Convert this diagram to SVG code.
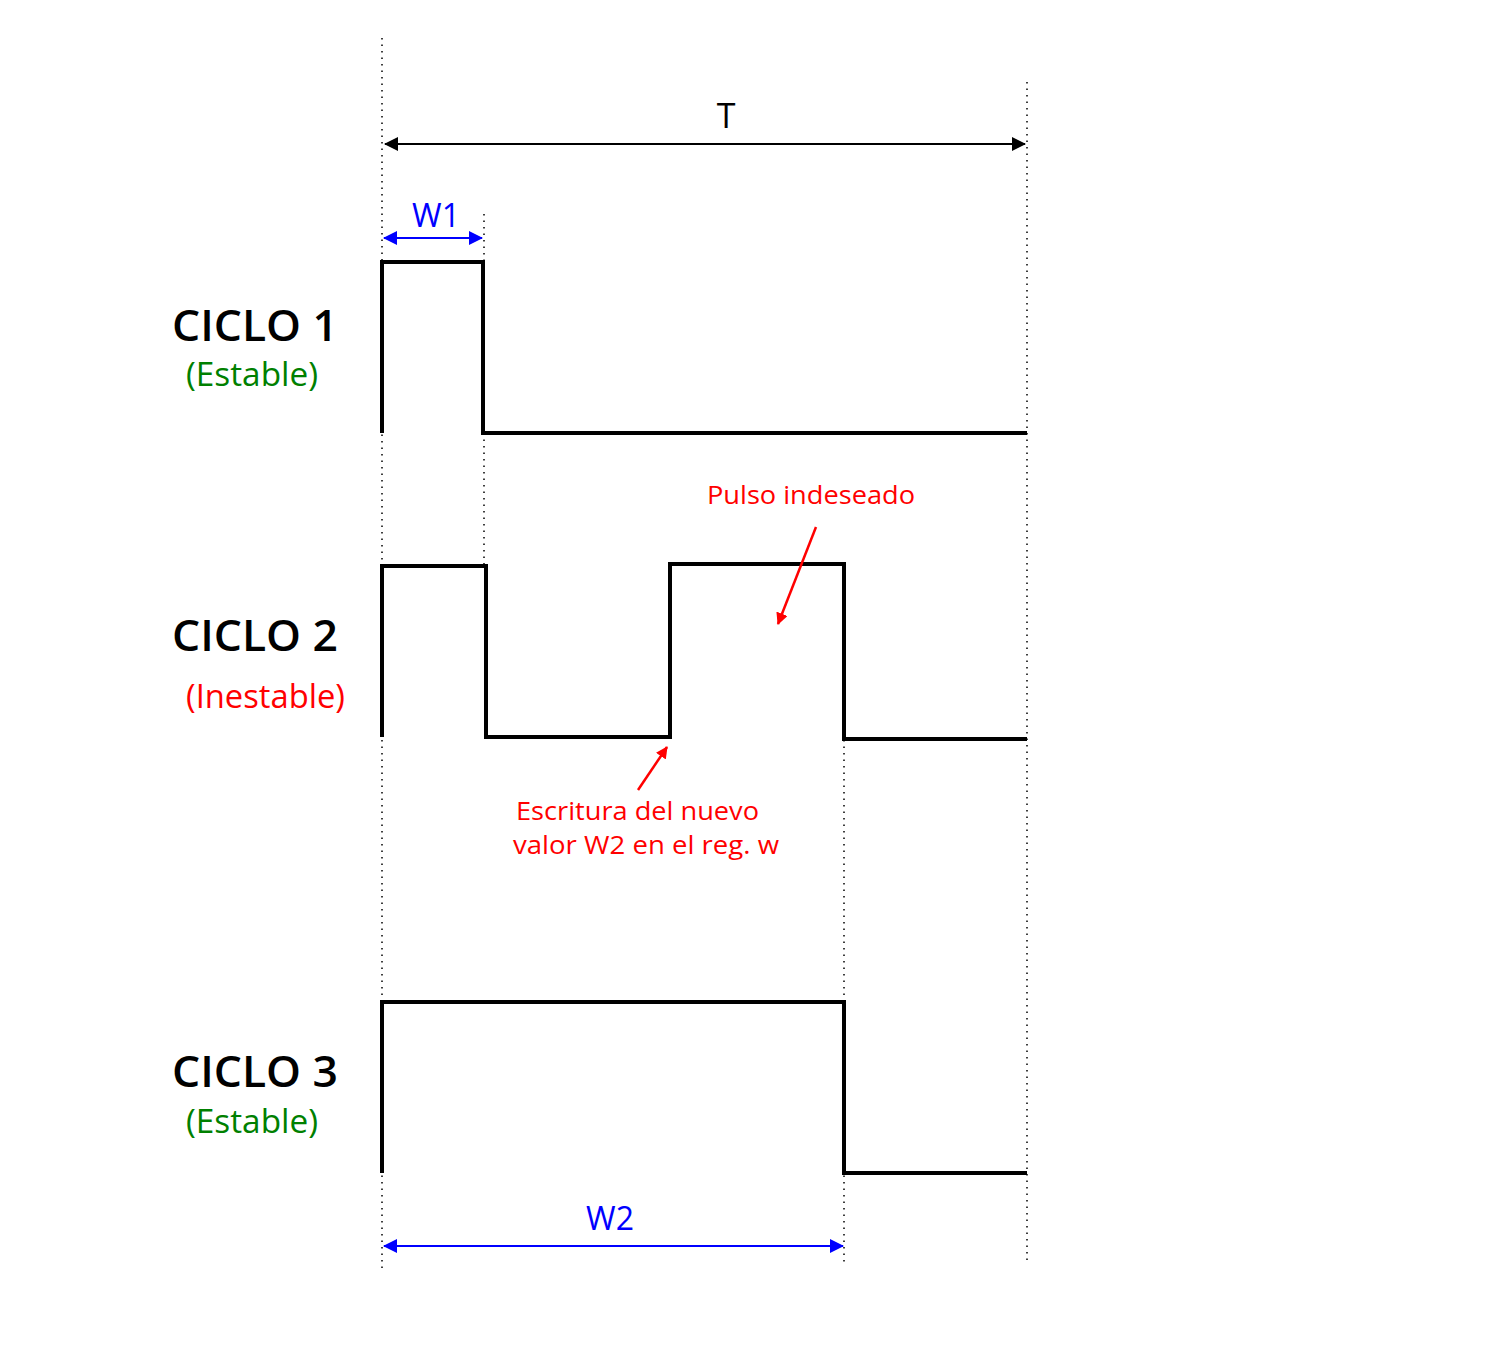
<svg xmlns="http://www.w3.org/2000/svg" width="1487" height="1347" viewBox="0 0 1487 1347">
<defs>
<style>
.dot{stroke:#000;stroke-width:1.5;stroke-dasharray:1.5 5;fill:none}
.wave{stroke:#000;stroke-width:4;fill:none;stroke-linejoin:miter;stroke-linecap:butt}
.t{font-family:"Open Sans","Noto Sans",sans-serif}
.big{font-size:44px;font-weight:600;fill:#000}
.sub{font-size:32px}
.red{fill:#ff0000}
.green{fill:#008000}
.blue{fill:#0000ff}
</style>
<marker id="ak" viewBox="0 0 14 14" refX="13" refY="7" markerWidth="14" markerHeight="14" markerUnits="userSpaceOnUse" orient="auto-start-reverse"><path d="M0,0 L14,7 L0,14 Z" fill="#000"/></marker>
<marker id="ab" viewBox="0 0 14 14" refX="13" refY="7" markerWidth="14" markerHeight="14" markerUnits="userSpaceOnUse" orient="auto-start-reverse"><path d="M0,0 L14,7 L0,14 Z" fill="#0000ff"/></marker>
<marker id="ar" viewBox="0 0 12 12" refX="11" refY="6" markerWidth="12" markerHeight="12" markerUnits="userSpaceOnUse" orient="auto"><path d="M0,0 L12,6 L0,12 Z" fill="#ff0000"/></marker>
</defs>
<g id="guides">
<line class="dot" x1="382" y1="38" x2="382" y2="1268"/>
<line class="dot" x1="484" y1="214" x2="484" y2="262"/>
<line class="dot" x1="484" y1="433" x2="484" y2="566"/>
<line class="dot" x1="1027" y1="82" x2="1027" y2="1262"/>
<line class="dot" x1="844" y1="740" x2="844" y2="1262"/>
</g>
<g id="ciclo1">
<path class="wave" d="M382,433 V262 H483 V433 H1027"/>
<text class="t big" x="172" y="341" textLength="166" lengthAdjust="spacingAndGlyphs">CICLO 1</text>
<text class="t sub green" x="186" y="386" textLength="132" lengthAdjust="spacingAndGlyphs">(Estable)</text>
</g>
<g id="ciclo2">
<path class="wave" d="M382,737 V566 H486 V737 H670 V564 H844 V739 H1027"/>
<text class="t big" x="172" y="651" textLength="166" lengthAdjust="spacingAndGlyphs">CICLO 2</text>
<text class="t sub red" x="186" y="708" textLength="159" lengthAdjust="spacingAndGlyphs">(Inestable)</text>
</g>
<g id="ciclo3">
<path class="wave" d="M382,1173 V1002 H844 V1173 H1027"/>
<text class="t big" x="172" y="1087" textLength="166" lengthAdjust="spacingAndGlyphs">CICLO 3</text>
<text class="t sub green" x="186" y="1133" textLength="132" lengthAdjust="spacingAndGlyphs">(Estable)</text>
</g>
<g id="labels">
<text class="t" x="726" y="128" font-size="34" text-anchor="middle">T</text>
<text class="t sub blue" x="436" y="227" text-anchor="middle">W1</text>
<text class="t sub blue" x="610" y="1230" text-anchor="middle">W2</text>
<text class="t red" x="707" y="504" font-size="26" textLength="208" lengthAdjust="spacingAndGlyphs">Pulso indeseado</text>
<text class="t red" x="516" y="820" font-size="26" textLength="243" lengthAdjust="spacingAndGlyphs">Escritura del nuevo</text>
<text class="t red" x="513" y="854" font-size="26" textLength="266" lengthAdjust="spacingAndGlyphs">valor W2 en el reg. w</text>
</g>
<g id="connectors">
<line x1="385" y1="144" x2="1025" y2="144" stroke="#000" stroke-width="2" marker-start="url(#ak)" marker-end="url(#ak)"/>
<line x1="384" y1="238" x2="482" y2="238" stroke="#0000ff" stroke-width="2" marker-start="url(#ab)" marker-end="url(#ab)"/>
<line x1="384" y1="1246" x2="843" y2="1246" stroke="#0000ff" stroke-width="2" marker-start="url(#ab)" marker-end="url(#ab)"/>
<line x1="816" y1="527" x2="778" y2="624" stroke="#ff0000" stroke-width="2.5" marker-end="url(#ar)"/>
<line x1="638" y1="790" x2="667" y2="747" stroke="#ff0000" stroke-width="2.5" marker-end="url(#ar)"/>
</g>
</svg>
